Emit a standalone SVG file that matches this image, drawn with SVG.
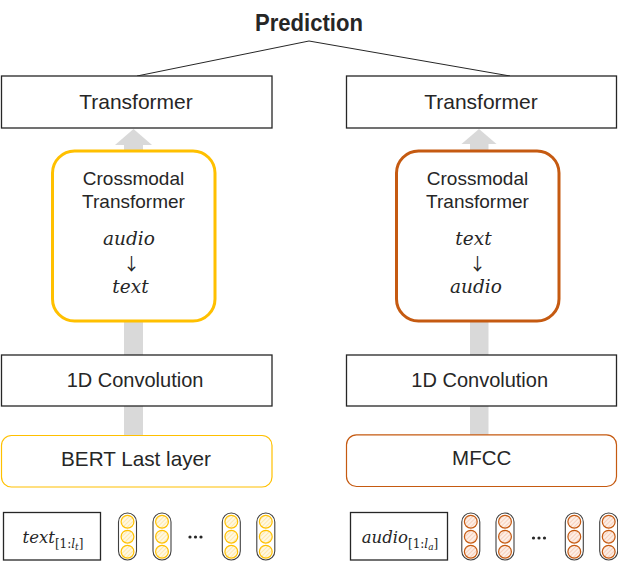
<svg xmlns="http://www.w3.org/2000/svg" width="618" height="561" viewBox="0 0 618 561">
<style>
.box{fill:#fff;stroke:#262626;stroke-width:1.3}
.lbl{font-family:"Liberation Sans",Arial,sans-serif;fill:#262626;text-anchor:middle}
.arr{font-family:"Noto Sans CJK SC","DejaVu Sans",sans-serif;fill:#262626;text-anchor:middle}
.math{font-family:"DejaVu Serif",serif;font-style:italic;fill:#262626;text-anchor:middle}
.up{font-style:normal}
.shaft{fill:#D9D9D9}
.pill{fill:#fff;stroke:#404040;stroke-width:1.1}
.cy{fill:url(#hy);stroke:#FFC000;stroke-width:1.2}
.co{fill:url(#ho);stroke:#C55A11;stroke-width:1.2}
.dots{fill:#262626}
</style>
<defs>
<pattern id="hy" patternUnits="userSpaceOnUse" width="3" height="3" patternTransform="rotate(45)">
<rect width="3" height="3" fill="#FFF8E2"/>
<line x1="0" y1="0" x2="0" y2="3" stroke="#FFDF88" stroke-width="1.2"/>
</pattern>
<pattern id="ho" patternUnits="userSpaceOnUse" width="3" height="3" patternTransform="rotate(45)">
<rect width="3" height="3" fill="#FDEEE5"/>
<line x1="0" y1="0" x2="0" y2="3" stroke="#F3BDA2" stroke-width="1.2"/>
</pattern>
<g id="vy">
<rect class="pill" x="-9" y="513" width="18" height="47" rx="9"/>
<circle class="cy" cx="0" cy="521.7" r="6.4"/>
<circle class="cy" cx="0" cy="536.7" r="6.4"/>
<circle class="cy" cx="0" cy="551.7" r="6.4"/>
</g>
<g id="vo">
<rect class="pill" x="-9" y="513" width="18" height="47" rx="9"/>
<circle class="co" cx="0" cy="521.7" r="6.4"/>
<circle class="co" cx="0" cy="536.7" r="6.4"/>
<circle class="co" cx="0" cy="551.7" r="6.4"/>
</g>
</defs>
<rect width="618" height="561" fill="#fff"/>

<g id="connectors">
<polyline points="137,76 309,41 510,76" fill="none" stroke="#262626" stroke-width="1"/>
<rect class="shaft" x="124" y="144" width="19" height="8"/>
<polygon class="shaft" points="133.5,129 115,145 152,145"/>
<rect class="shaft" x="124" y="321" width="19" height="34"/>
<rect class="shaft" x="124" y="406" width="19" height="30"/>
<rect class="shaft" x="470" y="143" width="18.5" height="9"/>
<polygon class="shaft" points="479,129 461.5,144 496.5,144"/>
<rect class="shaft" x="470" y="321" width="18.5" height="34"/>
<rect class="shaft" x="470" y="406" width="18.5" height="30"/>
</g>

<g id="prediction">
<text x="309" y="31" font-family="'Liberation Sans',Arial,sans-serif" font-weight="bold" font-size="24" fill="#262626" text-anchor="middle" textLength="108" lengthAdjust="spacingAndGlyphs">Prediction</text>
</g>

<g id="transformer-left">
<rect class="box" x="1.5" y="76" width="270.5" height="52"/>
<text class="lbl" x="136" y="109" font-size="21">Transformer</text>
</g>
<g id="transformer-right">
<rect class="box" x="346.5" y="76" width="270" height="52"/>
<text class="lbl" x="481" y="109" font-size="21">Transformer</text>
</g>

<g id="crossmodal-left">
<rect x="52.5" y="151" width="162.5" height="170" rx="22" fill="#fff" stroke="#FFC000" stroke-width="3"/>
<text class="lbl" x="133.5" y="185" font-size="19">Crossmodal</text>
<text class="lbl" x="133.5" y="208" font-size="19">Transformer</text>
<text class="math" x="129" y="245" font-size="18.5">audio</text>
<text class="arr" x="131.5" y="270" font-size="17">↓</text>
<text class="math" x="130.5" y="293" font-size="18.5">text</text>
</g>
<g id="crossmodal-right">
<rect x="396.5" y="151" width="162.5" height="170" rx="22" fill="#fff" stroke="#C55A11" stroke-width="3"/>
<text class="lbl" x="477.5" y="185" font-size="19">Crossmodal</text>
<text class="lbl" x="477.5" y="208" font-size="19">Transformer</text>
<text class="math" x="473.5" y="245" font-size="18.5">text</text>
<text class="arr" x="477.5" y="270" font-size="17">↓</text>
<text class="math" x="476" y="293" font-size="18.5">audio</text>
</g>

<g id="conv-left">
<rect class="box" x="1.5" y="355" width="270.5" height="51"/>
<text class="lbl" x="135" y="387" font-size="20">1D Convolution</text>
</g>
<g id="conv-right">
<rect class="box" x="346.5" y="355" width="270" height="51"/>
<text class="lbl" x="479.7" y="387" font-size="20">1D Convolution</text>
</g>

<g id="bert">
<rect x="1.5" y="435.5" width="270.5" height="51.5" rx="10" fill="#fff" stroke="#FFC000" stroke-width="1.2"/>
<text class="lbl" x="136" y="466" font-size="20.7">BERT Last layer</text>
</g>
<g id="mfcc">
<rect x="346.5" y="434.8" width="270" height="51.7" rx="10" fill="#fff" stroke="#C55A11" stroke-width="1.2"/>
<text class="lbl" x="481.7" y="465" font-size="20.5">MFCC</text>
</g>

<g id="text-input">
<rect class="box" x="3.5" y="512.5" width="97" height="47.5"/>
<text class="math" x="53" y="543" font-size="16.5">text<tspan class="up" font-size="12" dy="5">[1:</tspan><tspan font-size="12">l</tspan><tspan font-size="9" dy="2">t</tspan><tspan class="up" font-size="12" dy="-2">]</tspan></text>
</g>
<g id="text-vectors">
<use href="#vy" x="127.5"/>
<use href="#vy" x="162"/>
<circle class="dots" cx="190" cy="537" r="1.6"/>
<circle class="dots" cx="195.5" cy="537" r="1.6"/>
<circle class="dots" cx="201" cy="537" r="1.6"/>
<use href="#vy" x="231.3"/>
<use href="#vy" x="265.8"/>
</g>

<g id="audio-input">
<rect class="box" x="350.5" y="512.5" width="97" height="47.5"/>
<text class="math" x="400" y="543" font-size="16.5">audio<tspan class="up" font-size="12" dy="5">[1:</tspan><tspan font-size="12">l</tspan><tspan font-size="9" dy="2">a</tspan><tspan class="up" font-size="12" dy="-2">]</tspan></text>
</g>
<g id="audio-vectors">
<use href="#vo" x="470.8"/>
<use href="#vo" x="505"/>
<circle class="dots" cx="533.5" cy="538" r="1.6"/>
<circle class="dots" cx="539" cy="538" r="1.6"/>
<circle class="dots" cx="544.5" cy="538" r="1.6"/>
<use href="#vo" x="574.3"/>
<use href="#vo" x="608.7"/>
</g>
</svg>
